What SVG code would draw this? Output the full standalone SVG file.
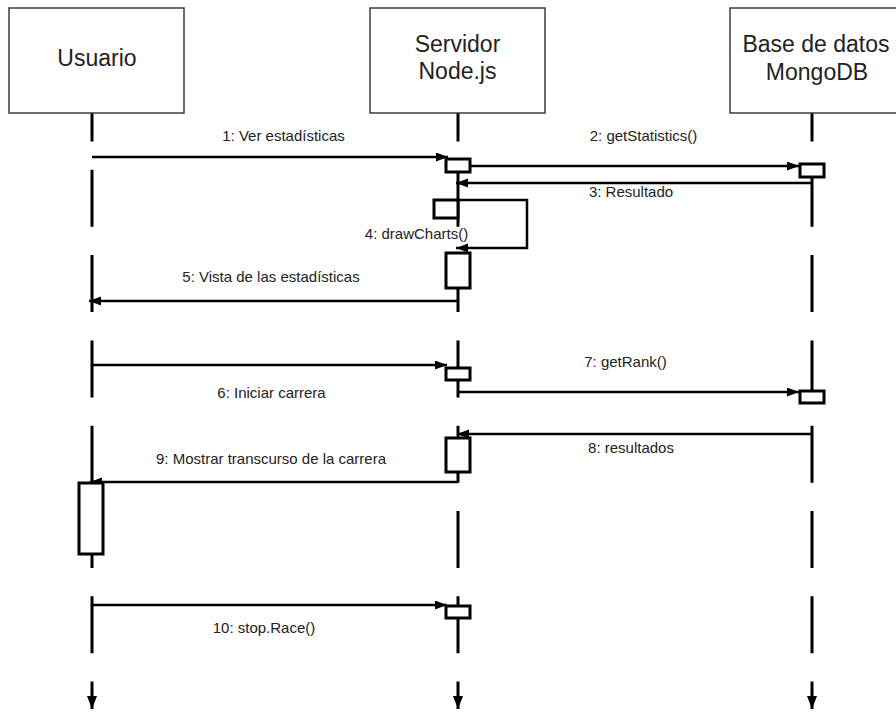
<svg xmlns="http://www.w3.org/2000/svg" width="896" height="713" viewBox="0 0 896 713">
<defs>
<style>
.part{fill:#fff;stroke:#3c3c3c;stroke-width:1.5}
.pt{font-family:"Liberation Sans",Arial,sans-serif;font-size:23px;fill:#222;text-anchor:middle}
.lt{font-family:"Liberation Sans",Arial,sans-serif;font-size:15px;fill:#222;text-anchor:middle}
.life{stroke:#000;stroke-width:3;fill:none;stroke-dasharray:57 28.3;stroke-dashoffset:28.5}
.msg{stroke:#000;stroke-width:2.5;fill:none}
.act{fill:#fff;stroke:#000;stroke-width:3}
</style>
<marker id="ah" markerUnits="userSpaceOnUse" markerWidth="13" markerHeight="10" refX="12" refY="4.5" orient="auto">
<path d="M0,0 L12,4.5 L0,9 z" fill="#000"/>
</marker>
<marker id="lh" markerUnits="userSpaceOnUse" markerWidth="14" markerHeight="11" refX="13" refY="5" orient="auto">
<path d="M0,0 L13,5 L0,10 z" fill="#000"/>
</marker>
</defs>
<rect width="896" height="713" fill="#fff"/>
<g id="lifelines">
<line class="life" x1="92" y1="113" x2="92" y2="709" marker-end="url(#lh)"/>
<line class="life" x1="458" y1="113" x2="458" y2="709" marker-end="url(#lh)"/>
<line class="life" x1="812" y1="113" x2="812" y2="709" marker-end="url(#lh)"/>
</g>
<g id="usuario">
<rect class="part" x="9" y="8" width="175" height="105"/>
<text class="pt" x="97" y="66">Usuario</text>
</g>
<g id="servidor">
<rect class="part" x="370" y="8" width="175" height="105"/>
<text class="pt" x="457.5" y="52">Servidor</text>
<text class="pt" x="457.5" y="79">Node.js</text>
</g>
<g id="basedatos">
<rect class="part" x="730" y="8" width="175" height="105"/>
<text class="pt" x="816" y="52">Base de datos</text>
<text class="pt" x="817" y="80">MongoDB</text>
</g>
<g id="connectors">
<line class="msg" x1="92" y1="157" x2="448" y2="157" marker-end="url(#ah)"/>
<line class="msg" x1="470" y1="166" x2="799" y2="166" marker-end="url(#ah)"/>
<line class="msg" x1="812" y1="183" x2="456" y2="183" marker-end="url(#ah)"/>
<path class="msg" d="M458,200 H527 V248 H456" marker-end="url(#ah)"/>
<line class="msg" x1="458" y1="301" x2="89" y2="301" marker-end="url(#ah)"/>
<line class="msg" x1="92" y1="365" x2="447" y2="365" marker-end="url(#ah)"/>
<line class="msg" x1="458" y1="392" x2="799" y2="392" marker-end="url(#ah)"/>
<line class="msg" x1="812" y1="434" x2="457" y2="434" marker-end="url(#ah)"/>
<line class="msg" x1="458" y1="482" x2="90" y2="482" marker-end="url(#ah)"/>
<line class="msg" x1="92" y1="605" x2="447" y2="605" marker-end="url(#ah)"/>
</g>
<g id="activations">
<rect class="act" x="446" y="159" width="24" height="13"/>
<rect class="act" x="800" y="164" width="24" height="13"/>
<rect class="act" x="434" y="200" width="24" height="18"/>
<rect class="act" x="446" y="253" width="24" height="35"/>
<rect class="act" x="446" y="368" width="24" height="12"/>
<rect class="act" x="800" y="391" width="24" height="12"/>
<rect class="act" x="446" y="438" width="24" height="34"/>
<rect class="act" x="79" y="483" width="24" height="71"/>
<rect class="act" x="446" y="606" width="24" height="12"/>
</g>
<g id="labels">
<text class="lt" x="283.5" y="141">1: Ver estadísticas</text>
<text class="lt" x="643.5" y="141">2: getStatistics()</text>
<text class="lt" x="631" y="197">3: Resultado</text>
<text class="lt" x="416.5" y="239">4: drawCharts()</text>
<text class="lt" x="271" y="282">5: Vista de las estadísticas</text>
<text class="lt" x="271.5" y="398">6: Iniciar carrera</text>
<text class="lt" x="625.5" y="367">7: getRank()</text>
<text class="lt" x="631" y="453">8: resultados</text>
<text class="lt" x="271" y="464">9: Mostrar transcurso de la carrera</text>
<text class="lt" x="264" y="633">10: stop.Race()</text>
</g>
</svg>
